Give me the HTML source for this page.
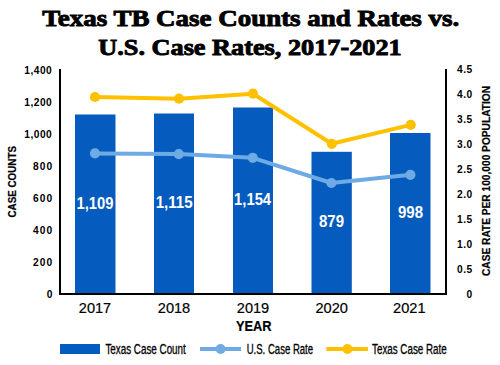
<!DOCTYPE html>
<html><head><meta charset="utf-8">
<style>
html,body{margin:0;padding:0;background:#fff;width:500px;height:365px;overflow:hidden}
svg{display:block}
text{font-family:"Liberation Sans",sans-serif}
.ttl{font-family:"Liberation Serif",serif;font-weight:bold;font-size:24px;fill:#000;stroke:#000;stroke-width:0.9}
.tk{font-weight:bold;font-size:10.2px;fill:#000;letter-spacing:0.5px}
.yr{font-size:14.6px;fill:#000;stroke:#000;stroke-width:0.2}
.val{font-weight:bold;font-size:15.8px;fill:#fff}
.lg{font-size:14px;fill:#000;stroke:#000;stroke-width:0.3}
.ax{font-weight:bold;font-size:11px;fill:#000;stroke:#000;stroke-width:0.2}
</style></head><body>
<svg width="500" height="365" viewBox="0 0 500 365">
<!-- title -->
<text class="ttl" x="42.3" y="26" textLength="417" lengthAdjust="spacingAndGlyphs">Texas TB Case Counts and Rates vs.</text>
<text class="ttl" x="98.3" y="54.9" textLength="303.4" lengthAdjust="spacingAndGlyphs">U.S. Case Rates, 2017-2021</text>

<!-- bars -->
<g fill="#055BBE">
<rect x="75" y="114.5" width="40.5" height="179"/>
<rect x="154" y="113.5" width="40" height="180"/>
<rect x="233" y="107.5" width="40" height="186"/>
<rect x="311.5" y="151.8" width="40.3" height="141.7"/>
<rect x="390" y="133" width="40.5" height="160.5"/>
</g>

<!-- axes -->
<g fill="#000">
<rect x="59" y="69" width="2" height="226"/>
<rect x="445" y="69" width="2" height="226"/>
<rect x="59" y="293" width="388" height="2"/>
</g>

<!-- lines -->
<polyline points="95,153.4 178.8,154.1 252.8,157.8 331.4,183 410.4,174.8" fill="none" stroke="#6EAAE4" stroke-width="4" stroke-linejoin="round"/>
<g fill="#6EAAE4">
<circle cx="95" cy="153.4" r="5.1"/><circle cx="178.8" cy="154.1" r="5.1"/><circle cx="252.8" cy="157.8" r="5.1"/><circle cx="331.4" cy="183" r="5.1"/><circle cx="410.4" cy="174.8" r="5.1"/>
</g>
<polyline points="95,97 179,98.7 253,93.7 331.8,143.8 410.7,124.9" fill="none" stroke="#FFC000" stroke-width="4" stroke-linejoin="round"/>
<g fill="#FFC000">
<circle cx="95" cy="97" r="5.1"/><circle cx="179" cy="98.7" r="5.1"/><circle cx="253" cy="93.7" r="5.1"/><circle cx="331.8" cy="143.8" r="5.1"/><circle cx="410.7" cy="124.9" r="5.1"/>
</g>

<!-- bar values -->
<g class="val" text-anchor="middle">
<text x="95" y="209.2" textLength="37" lengthAdjust="spacingAndGlyphs">1,109</text>
<text x="174.2" y="208.2" textLength="37" lengthAdjust="spacingAndGlyphs">1,115</text>
<text x="252.6" y="204.7" textLength="37" lengthAdjust="spacingAndGlyphs">1,154</text>
<text x="331.5" y="227.2" textLength="25" lengthAdjust="spacingAndGlyphs">879</text>
<text x="410.5" y="217.8" textLength="25" lengthAdjust="spacingAndGlyphs">998</text>
</g>

<!-- left ticks -->
<g class="tk" text-anchor="end">
<text x="52.3" y="73.6">1,400</text>
<text x="52.3" y="105.6">1,200</text>
<text x="52.3" y="137.6">1,000</text>
<text x="53.2" y="169.6" style="letter-spacing:1.1px">800</text>
<text x="53.2" y="201.6" style="letter-spacing:1.1px">600</text>
<text x="53.2" y="233.6" style="letter-spacing:1.1px">400</text>
<text x="53.2" y="265.6" style="letter-spacing:1.1px">200</text>
<text x="52.8" y="297.6">0</text>
</g>
<!-- right ticks -->
<g class="tk" text-anchor="end">
<text x="472.7" y="72.8">4.5</text>
<text x="472.7" y="97.8">4.0</text>
<text x="472.7" y="122.7">3.5</text>
<text x="472.7" y="147.7">3.0</text>
<text x="472.7" y="172.7">2.5</text>
<text x="472.7" y="197.6">2.0</text>
<text x="472.7" y="222.6">1.5</text>
<text x="472.7" y="247.5">1.0</text>
<text x="472.7" y="272.5">0.5</text>
<text x="472.7" y="297.5">0</text>
</g>

<!-- years -->
<g class="yr" text-anchor="middle">
<text x="95" y="312.8">2017</text>
<text x="174" y="312.8">2018</text>
<text x="253" y="312.8">2019</text>
<text x="331.7" y="312.8">2020</text>
<text x="409.3" y="312.8">2021</text>
</g>
<text class="ax" x="253.8" y="330.5" text-anchor="middle" style="font-size:14.2px" textLength="35.6" lengthAdjust="spacingAndGlyphs">YEAR</text>

<!-- axis titles -->
<text class="ax" transform="translate(16,217.5) rotate(-90)" textLength="71.5" lengthAdjust="spacingAndGlyphs">CASE COUNTS</text>
<text class="ax" transform="translate(490,276) rotate(-90)" textLength="190" lengthAdjust="spacingAndGlyphs">CASE RATE PER 100,000 POPULATION</text>

<!-- legend -->
<rect x="60" y="344" width="40" height="10" fill="#055BBE"/>
<text class="lg" x="105.4" y="354.3" textLength="80.4" lengthAdjust="spacingAndGlyphs">Texas Case Count</text>
<rect x="200" y="347" width="41" height="4" fill="#6EAAE4"/>
<circle cx="220.6" cy="349" r="5" fill="#6EAAE4"/>
<text class="lg" x="246.7" y="354.3" textLength="66.4" lengthAdjust="spacingAndGlyphs">U.S. Case Rate</text>
<rect x="326.3" y="347" width="41.6" height="4" fill="#FFC000"/>
<circle cx="347.4" cy="349" r="5" fill="#FFC000"/>
<text class="lg" x="372.1" y="354.3" textLength="74.5" lengthAdjust="spacingAndGlyphs">Texas Case Rate</text>
</svg>
</body></html>
